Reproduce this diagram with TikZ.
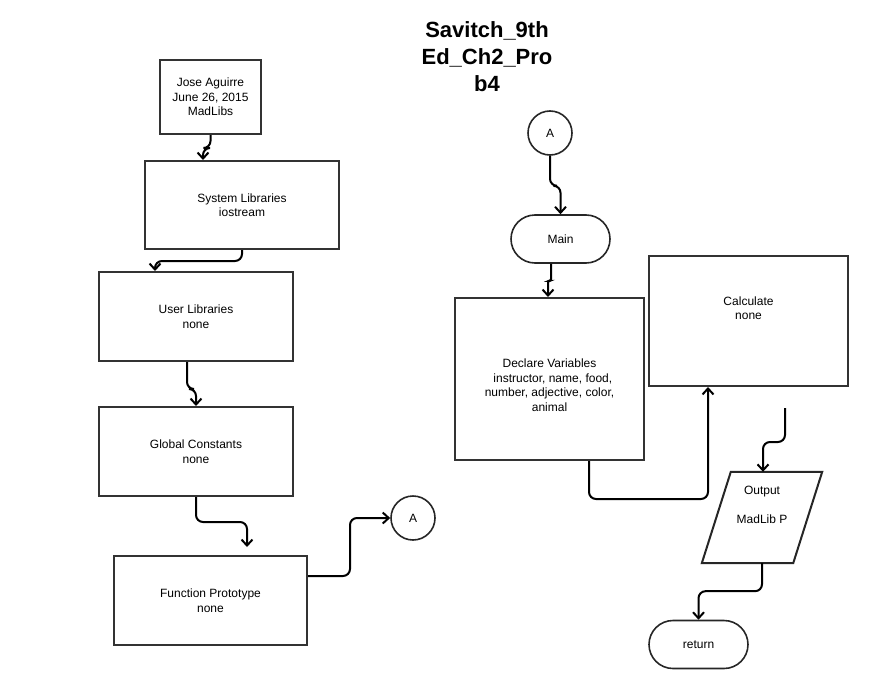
\documentclass[tikz,border=0pt]{standalone}
\usepackage{fontspec}
\setmainfont{Liberation Sans}
\usepackage{tikz}
\usetikzlibrary{arrows.meta,calc,shapes.misc}

\begin{document}
\begin{tikzpicture}[x=1pt,y=-1pt,>={Straight Barb[length=6pt,width=11pt]},
    every node/.style={font=\fontsize{12}{14.5}\selectfont,align=center},
    stepbox/.style={draw=black!80,line width=2pt,rectangle,inner sep=0pt},
    term/.style={draw=black!85,line width=1.6pt,rounded rectangle,inner sep=0pt,minimum width=99pt,minimum height=48pt},
    conn/.style={draw=black!85,line width=1.6pt,circle,inner sep=0pt,minimum size=44pt},
    link/.style={->,line width=2pt,rounded corners=7pt}]
  \useasboundingbox (0,0) rectangle (874,690);
  \node[font=\bfseries\fontsize{22}{27}\selectfont] (title) at (487,57) {Savitch\_9th\\Ed\_Ch2\_Pro\\b4};
  % left column
  \node[stepbox,minimum width=101pt,minimum height=74pt] (jose) at (210.5,97) {Jose Aguirre\\June 26, 2015\\MadLibs};
  \node[stepbox,minimum width=194pt,minimum height=88pt] (sys) at (242,205) {System Libraries\\iostream};
  \node[stepbox,minimum width=194pt,minimum height=89pt] (user) at (196,316.5) {User Libraries\\none};
  \node[stepbox,minimum width=194pt,minimum height=89pt] (glob) at (196,451.5) {Global Constants\\none};
  \node[stepbox,minimum width=193pt,minimum height=89pt] (func) at (210.5,600.5) {Function Prototype\\none};
  \node[conn] (conA) at (413,518) {A};
  % right column
  \node[conn] (conB) at (550,133) {A};
  \node[term] (main) at (560.5,239) {Main};
  \node[stepbox,minimum width=189pt,minimum height=162pt] (decl) at (549.5,379) {};
  \node (decltxt) at ([yshift=-6pt]decl.center) {Declare Variables\\\ \ instructor, name, food,\\number, adjective, color,\\animal};
  \node[stepbox,minimum width=199pt,minimum height=130pt] (calc) at (748.5,321) {};
  \node (calctxt) at ([yshift=13pt]calc.center) {Calculate\\none};
  \node[inner sep=0pt,minimum width=120pt,minimum height=91pt] (output) at (762,517.5) {};
  \draw[draw=black!85,line width=2pt] ($(output.north west)+(29,0)$) -- (output.north east)
    -- ($(output.south east)+(-29,0)$) -- (output.south west) -- cycle;
  \node (outtxt) at ([yshift=13pt]output.center) {Output\\[14.5pt]MadLib P};
  \node[term] (ret) at (698.5,644.5) {return};
  \coordinate (free) at (785,408);

  \draw[link] (jose.south) -- ++(0,13) -| ([xshift=-39pt]sys.north);
  \draw[link] (sys.south) -- ++(0,11) -| ([xshift=-41pt]user.north);
  \draw[link] ([xshift=-9pt]user.south) -- ++(0,27) -| (glob.north);
  \draw[link,shorten >=8pt] (glob.south) -- ++(0,25) -| ([xshift=36.5pt]func.north);
  \draw[link] ([yshift=24.5pt]func.east) -- ++(42,0) |- (conA.west);
  \draw[link] (conB.south) -- ++(0,30) -| (main.north);
  \draw[link,rounded corners=2pt] ([xshift=-9.5pt]main.south) -- ++(0,17) -| ([xshift=-1.5pt]decl.north);
  \draw[link] ([xshift=39.5pt]decl.south) -- ++(0,38) -| ([xshift=-40.5pt]calc.south);
  \draw[link] (free) -- ++(0,34) -| ([xshift=1pt]output.north);
  \draw[link] (output.south) -- ++(0,28) -| (ret.north);
\end{tikzpicture}
\end{document}
